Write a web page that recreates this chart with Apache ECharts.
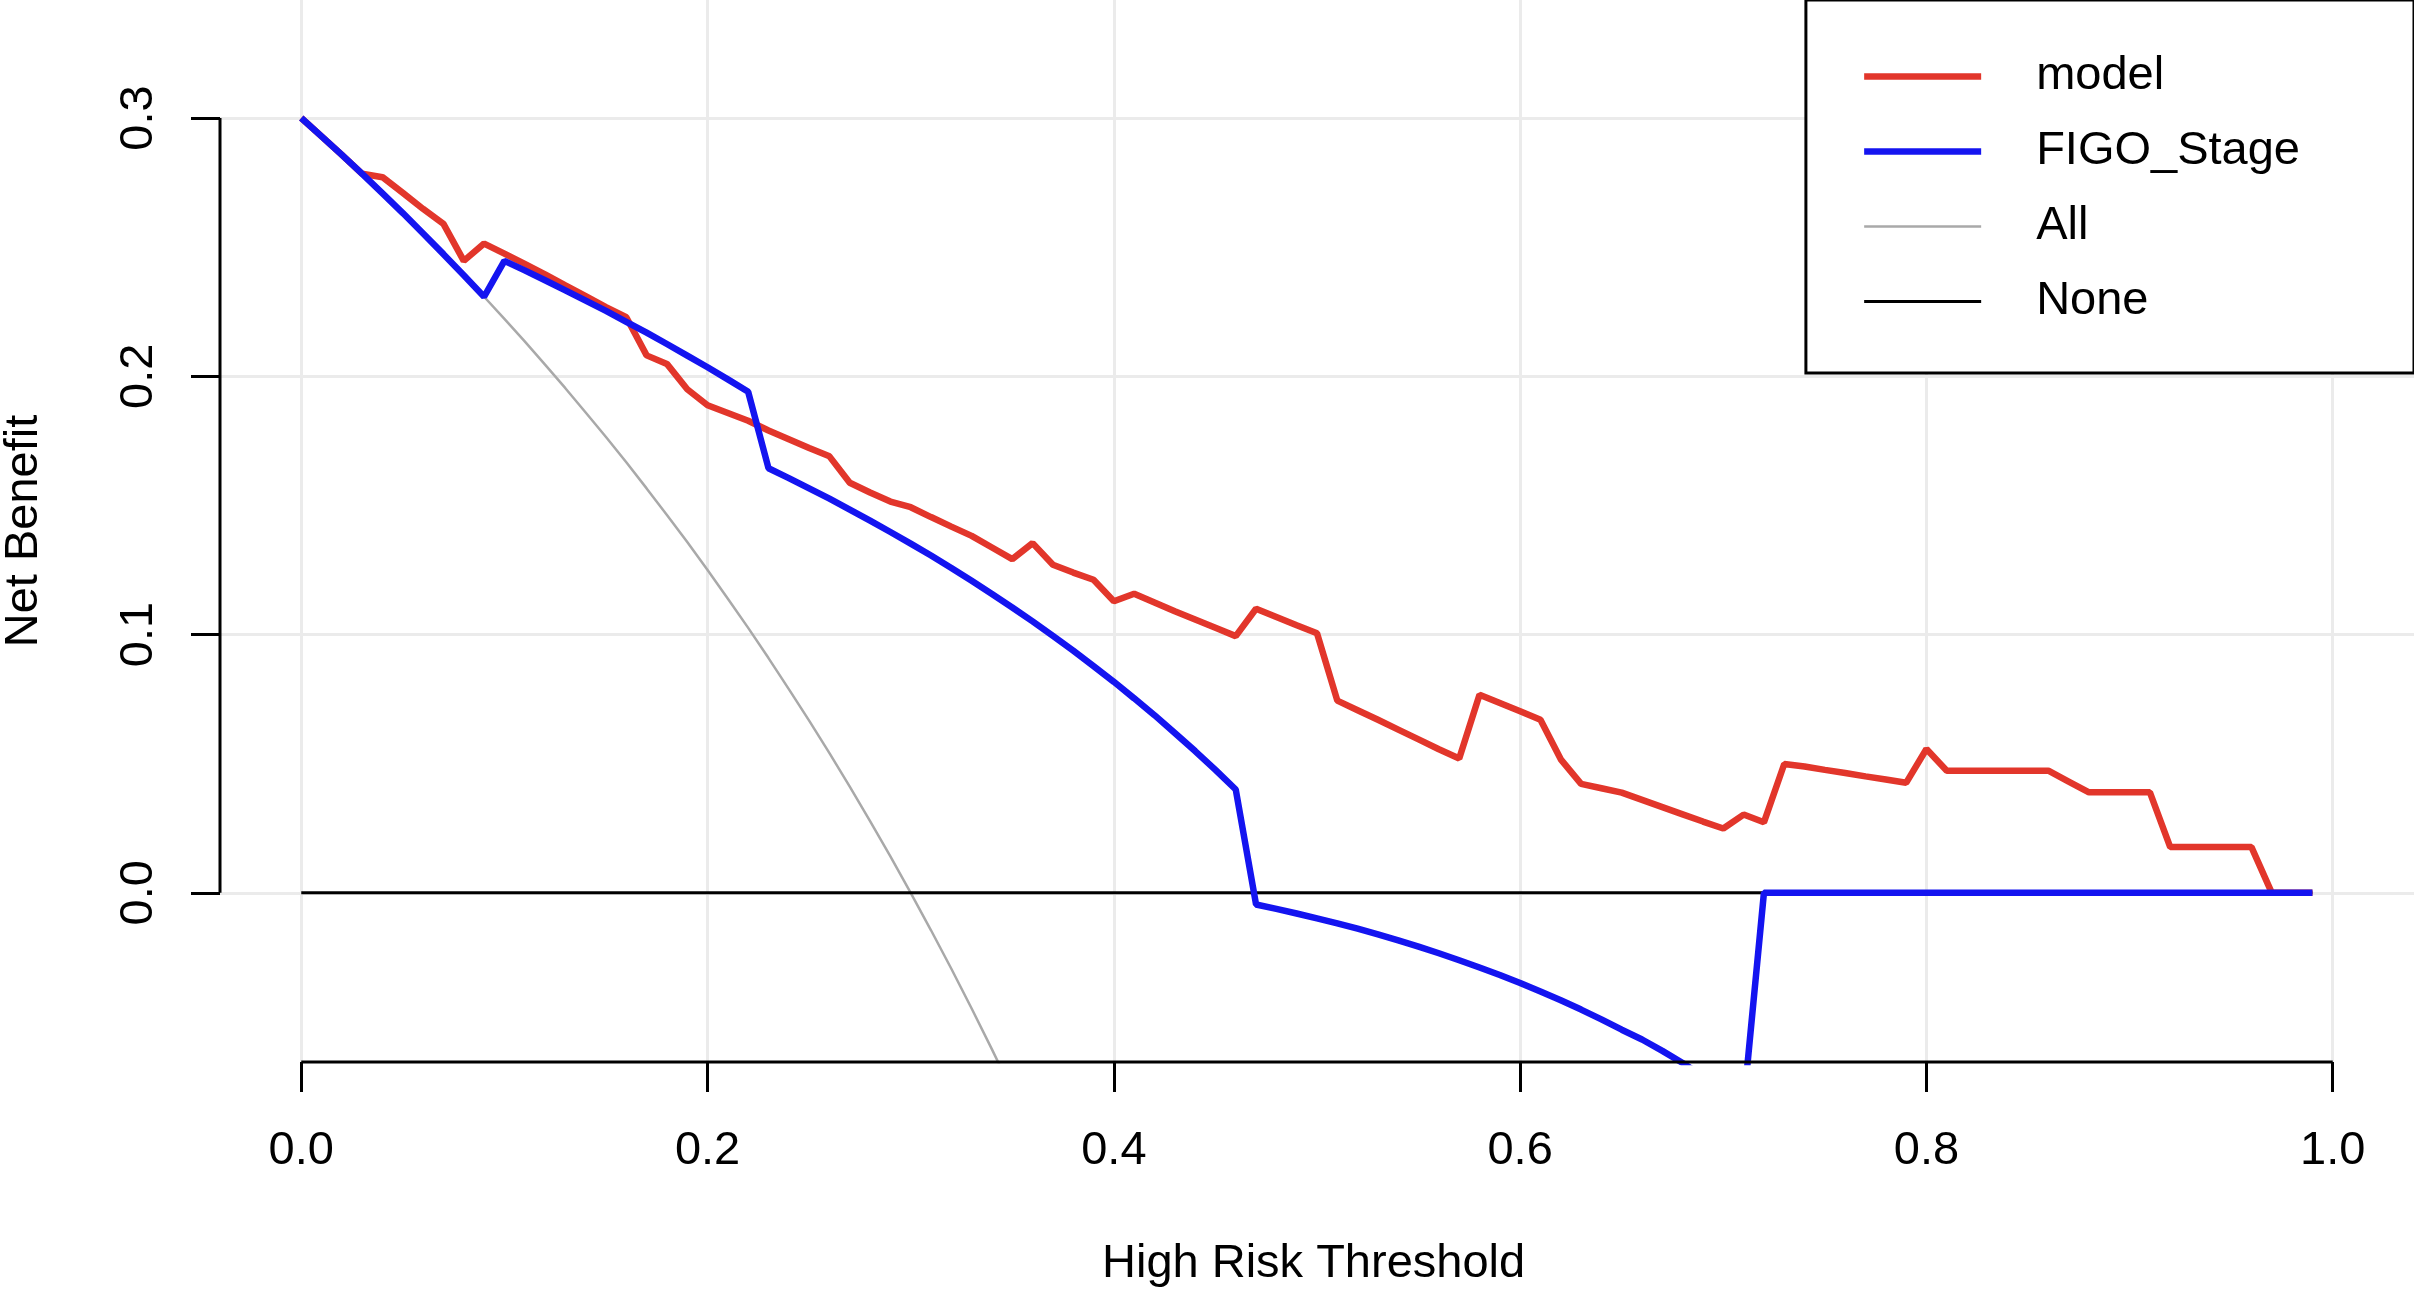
<!DOCTYPE html>
<html>
<head>
<meta charset="utf-8">
<title>Decision curve</title>
<script src="https://cdn.jsdelivr.net/npm/echarts@6/dist/echarts.min.js"></script>
<style>
html, body { margin: 0; padding: 0; background: #fff; }
#chart { width: 2414px; height: 1293px; }
</style>
</head>
<body>
<div id="chart"></div>
<script>
// risk thresholds used by the decision curve
var thresholds = [
  0.00, 0.01, 0.02, 0.03, 0.04, 0.05, 0.06, 0.07, 0.08, 0.09,
  0.10, 0.11, 0.12, 0.13, 0.14, 0.15, 0.16, 0.17, 0.18, 0.19,
  0.20, 0.21, 0.22, 0.23, 0.24, 0.25, 0.26, 0.27, 0.28, 0.29,
  0.30, 0.31, 0.32, 0.33, 0.34, 0.35, 0.36, 0.37, 0.38, 0.39,
  0.40, 0.41, 0.42, 0.43, 0.44, 0.45, 0.46, 0.47, 0.48, 0.49,
  0.50, 0.51, 0.52, 0.53, 0.54, 0.55, 0.56, 0.57, 0.58, 0.59,
  0.60, 0.61, 0.62, 0.63, 0.64, 0.65, 0.66, 0.67, 0.68, 0.69,
  0.70, 0.71, 0.72, 0.73, 0.74, 0.75, 0.76, 0.77, 0.78, 0.79,
  0.80, 0.81, 0.82, 0.83, 0.84, 0.85, 0.86, 0.87, 0.88, 0.89,
  0.90, 0.91, 0.92, 0.93, 0.94, 0.95, 0.96, 0.97, 0.98, 0.99
];

// net benefit of the model (red)
var modelNB = [
  0.3000, 0.2929, 0.2857, 0.2784, 0.2771, 0.2710, 0.2648, 0.2590, 0.2447, 0.2514,
  0.2475, 0.2435, 0.2395, 0.2352, 0.2310, 0.2268, 0.2229, 0.2081, 0.2048, 0.1950,
  0.1888, 0.1858, 0.1828, 0.1790, 0.1756, 0.1722, 0.1690, 0.1588, 0.1550, 0.1515,
  0.1493, 0.1455, 0.1418, 0.1382, 0.1337, 0.1292, 0.1354, 0.1270, 0.1240, 0.1212,
  0.1129, 0.1158, 0.1124, 0.1090, 0.1058, 0.1026, 0.0994, 0.1100, 0.1068, 0.1036,
  0.1005, 0.0744, 0.0707, 0.0670, 0.0632, 0.0594, 0.0556, 0.0520, 0.0767, 0.0735,
  0.0703, 0.0670, 0.0517, 0.0422, 0.0405, 0.0388, 0.0360, 0.0332, 0.0304, 0.0276,
  0.0249, 0.0303, 0.0273, 0.0499, 0.0489, 0.0476, 0.0464, 0.0451, 0.0439, 0.0426,
  0.0557, 0.0473, 0.0473, 0.0473, 0.0473, 0.0473, 0.0473, 0.0431, 0.0389, 0.0389,
  0.0389, 0.0389, 0.0177, 0.0177, 0.0177, 0.0177, 0.0177, 0.0000, 0.0000, 0.0000
];

// net benefit of FIGO stage (blue)
var figoNB = [
  0.3000, 0.2929, 0.2857, 0.2784, 0.2708, 0.2632, 0.2553, 0.2473, 0.2391, 0.2308,
  0.2447, 0.2410, 0.2372, 0.2333, 0.2293, 0.2253, 0.2211, 0.2169, 0.2125, 0.2080,
  0.2035, 0.1988, 0.1940, 0.1644, 0.1606, 0.1566, 0.1526, 0.1484, 0.1441, 0.1397,
  0.1352, 0.1306, 0.1258, 0.1208, 0.1157, 0.1105, 0.1051, 0.0995, 0.0938, 0.0878,
  0.0817, 0.0753, 0.0688, 0.0619, 0.0549, 0.0476, 0.0400, -0.0045, -0.0062, -0.0080,
  -0.0099, -0.0118, -0.0139, -0.0161, -0.0184, -0.0208, -0.0234, -0.0261, -0.0289, -0.0318,
  -0.0349, -0.0382, -0.0416, -0.0452, -0.0490, -0.0530, -0.0568, -0.0612, -0.0659, -0.0710,
  -0.0763, -0.0820, 0.0000, 0.0000, 0.0000, 0.0000, 0.0000, 0.0000, 0.0000, 0.0000,
  0.0000, 0.0000, 0.0000, 0.0000, 0.0000, 0.0000, 0.0000, 0.0000, 0.0000, 0.0000,
  0.0000, 0.0000, 0.0000, 0.0000, 0.0000, 0.0000, 0.0000, 0.0000, 0.0000, 0.0000
];

// treat all (grey), only the visible part before it leaves the plot
var allThreshold = [
  0.00, 0.01, 0.02, 0.03, 0.04, 0.05, 0.06, 0.07, 0.08, 0.09,
  0.10, 0.11, 0.12, 0.13, 0.14, 0.15, 0.16, 0.17, 0.18, 0.19,
  0.20, 0.21, 0.22, 0.23, 0.24, 0.25, 0.26, 0.27, 0.28, 0.29,
  0.30, 0.31, 0.32, 0.33, 0.34, 0.35
];
var allNB = [
  0.3000, 0.2929, 0.2857, 0.2784, 0.2708, 0.2632, 0.2553, 0.2473, 0.2391, 0.2308,
  0.2222, 0.2135, 0.2045, 0.1954, 0.1860, 0.1765, 0.1667, 0.1566, 0.1463, 0.1358,
  0.1250, 0.1139, 0.1026, 0.0909, 0.0789, 0.0667, 0.0541, 0.0411, 0.0278, 0.0141,
  0.0000, -0.0145, -0.0294, -0.0448, -0.0606, -0.0769
];

// treat none (black)
var noneThreshold = [0, 0.99];
var noneNB = [0, 0];

var xTicks = [0, 0.2, 0.4, 0.6, 0.8, 1.0];
var yTicks = [0, 0.1, 0.2, 0.3];
var legendNames = ['model', 'FIGO_Stage', 'All', 'None'];

// plot range (R pads the data range)
var X_MIN = -0.04, X_MAX = 1.04;
var Y_MIN = -0.0655, Y_MAX = 0.3457;

var FONT = 'Liberation Sans, Arial, sans-serif';

function pairs(xs, ys) {
  return xs.map(function (x, i) { return [x, ys[i]]; });
}

function curve(name, xs, ys, color, width) {
  return {
    name: name,
    type: 'line',
    data: pairs(xs, ys),
    symbol: 'none',
    clip: true,
    silent: true,
    lineStyle: { color: color, width: width },
    itemStyle: { color: color }
  };
}

// R style axis lines that only run from the first to the last tick
function axisSegment(points) {
  return {
    type: 'line',
    data: points,
    symbol: 'none',
    clip: false,
    silent: true,
    lineStyle: { color: '#000', width: 3 },
    z: 5
  };
}

var chart = echarts.init(document.getElementById('chart'));

chart.setOption({
  animation: false,
  backgroundColor: '#fff',
  textStyle: { fontFamily: FONT },
  // x axis title, placed under the plot centre like R's xlab
  title: {
    text: 'High Risk Threshold',
    left: 1102,
    top: 1241,
    padding: 0,
    textAlign: 'left',
    textVerticalAlign: 'top',
    textStyle: {
      fontFamily: FONT,
      fontSize: 47,
      lineHeight: 47,
      fontWeight: 'normal',
      color: '#000'
    }
  },
  grid: {
    left: 220, right: 0, top: 0, bottom: 231,
    containLabel: false,
    outerBoundsMode: 'none'
  },
  legend: {
    data: legendNames,
    orient: 'vertical',
    right: 0,
    top: 0,
    selectedMode: false,
    backgroundColor: '#fff',
    borderColor: '#000',
    borderWidth: 3,
    borderRadius: 0,
    padding: [53, 114, 48, 55],
    itemWidth: 117,
    itemHeight: 47,
    itemGap: 28,
    itemStyle: { color: 'rgba(0,0,0,0)', borderWidth: 0, opacity: 0 },
    lineStyle: { width: 'inherit' },
    textStyle: {
      fontFamily: FONT,
      fontSize: 47,
      lineHeight: 47,
      color: '#000',
      padding: [0, 0, 0, 50]
    }
  },
  xAxis: {
    type: 'value',
    min: X_MIN,
    max: X_MAX,
    axisLine: { show: false, onZero: false },
    axisTick: {
      show: true,
      customValues: xTicks,
      length: 30,
      lineStyle: { color: '#000', width: 3 }
    },
    axisLabel: {
      customValues: xTicks,
      formatter: function (v) { return v.toFixed(1); },
      fontFamily: FONT,
      fontSize: 47,
      color: '#000',
      margin: 66
    },
    splitLine: { show: true, lineStyle: { color: '#EBEBEB', width: 3 } }
  },
  yAxis: {
    type: 'value',
    min: Y_MIN,
    max: Y_MAX,
    name: 'Net Benefit',
    nameLocation: 'middle',
    nameGap: 172,
    nameMoveOverlap: false,
    nameRotate: 90,
    nameTextStyle: { fontFamily: FONT, fontSize: 47, color: '#000' },
    axisLine: { show: false, onZero: false },
    axisTick: {
      show: true,
      customValues: yTicks,
      length: 29,
      lineStyle: { color: '#000', width: 3 }
    },
    axisLabel: {
      customValues: yTicks,
      formatter: function (v) { return v.toFixed(1); },
      rotate: 90,
      fontFamily: FONT,
      fontSize: 47,
      color: '#000',
      margin: 57
    },
    splitLine: { show: true, lineStyle: { color: '#EBEBEB', width: 3 } }
  },
  series: [
    curve('All', allThreshold, allNB, '#A9A9A9', 2.5),
    curve('None', noneThreshold, noneNB, '#000000', 3),
    curve('model', thresholds, modelNB, '#E2362B', 6.5),
    curve('FIGO_Stage', thresholds, figoNB, '#1414F0', 6.5),
    axisSegment([[xTicks[0], Y_MIN], [xTicks[xTicks.length - 1], Y_MIN]]),
    axisSegment([[X_MIN, yTicks[0]], [X_MIN, yTicks[yTicks.length - 1]]])
  ]
});
</script>
</body>
</html>
